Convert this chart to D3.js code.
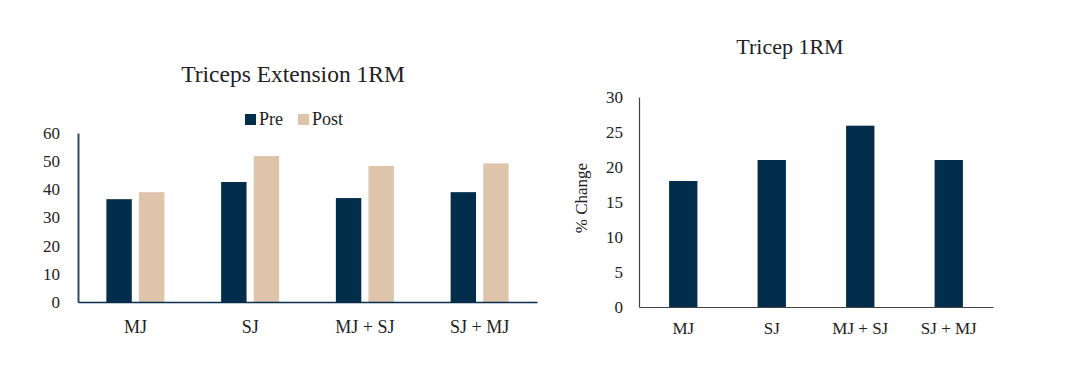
<!DOCTYPE html>
<html>
<head>
<meta charset="utf-8">
<script src="https://cdn.jsdelivr.net/npm/d3@7"></script>
<style>
  body { margin: 0; background: #fff; }
  svg text { font-family: "Liberation Serif", "DejaVu Serif", serif; fill: #222; }
</style>
</head>
<body>
<svg id="chart" width="1065" height="386"></svg>
<script>
// left chart: triceps extension 1RM, pre vs post
const groups = ["MJ", "SJ", "MJ + SJ", "SJ + MJ"];
const series = ["Pre", "Post"];
const preValues = [36.5, 42.6, 36.9, 39.0];
const postValues = [39.0, 51.8, 48.3, 49.2];
const leftTicks = [0, 10, 20, 30, 40, 50, 60];

// right chart: % change
const changeValues = [18.0, 21.0, 25.9, 21.0];
const rightTicks = [0, 5, 10, 15, 20, 25, 30];

const colors = { Pre: "#022d4b", Post: "#ddc4ab" };

const svg = d3.select("#chart");

// ---------- left chart ----------
const L = { left: 78, right: 537, top: 133, bottom: 302 };

const x0 = d3.scaleBand().domain(groups).range([L.left, L.right]).padding(0);
const x1 = d3.scaleBand().domain(series).range([x0.bandwidth() / 2 - 29, x0.bandwidth() / 2 + 29]).paddingInner(0.22);
const yL = d3.scaleLinear().domain([0, 60]).range([L.bottom, L.top]);

const left = svg.append("g");

const rows = groups.map((g, i) => ({ group: g, Pre: preValues[i], Post: postValues[i] }));

left.selectAll(".grp")
  .data(rows)
  .enter()
  .append("g")
  .attr("transform", d => `translate(${x0(d.group)},0)`)
  .selectAll("rect")
  .data(d => series.map(s => ({ key: s, value: d[s] })))
  .enter()
  .append("rect")
  .attr("x", d => x1(d.key))
  .attr("y", d => yL(d.value))
  .attr("width", x1.bandwidth())
  .attr("height", d => yL(0) - yL(d.value))
  .attr("fill", d => colors[d.key]);

const yAxisL = left.append("g")
  .attr("transform", `translate(${L.left},0)`)
  .call(d3.axisLeft(yL).tickValues(leftTicks).tickSize(0).tickPadding(18));
yAxisL.select(".domain").attr("stroke", "#2c4b69").attr("stroke-width", 2);
yAxisL.selectAll("text").style("font-size", "17px").attr("fill", "#222");

const xAxisL = left.append("g")
  .attr("transform", `translate(0,${L.bottom})`)
  .call(d3.axisBottom(x0).tickSize(0).tickPadding(18));
xAxisL.select(".domain").attr("stroke", "#0b2d4b").attr("stroke-width", 1.5);
xAxisL.selectAll("text").style("font-size", "18px").attr("fill", "#222");

left.append("text")
  .attr("x", 293)
  .attr("y", 82)
  .attr("text-anchor", "middle")
  .style("font-size", "23.5px")
  .text("Triceps Extension 1RM");

// legend
const legendX = [245, 298];
const legend = left.selectAll(".legend")
  .data(series)
  .enter()
  .append("g")
  .attr("transform", (d, i) => `translate(${legendX[i]},114)`);
legend.append("rect")
  .attr("width", 11)
  .attr("height", 11)
  .attr("fill", d => colors[d]);
legend.append("text")
  .attr("x", 14)
  .attr("y", 11)
  .style("font-size", "18px")
  .text(d => d);

// ---------- right chart ----------
const R = { left: 639, right: 993, top: 97, bottom: 307 };

const xR = d3.scaleBand().domain(groups).range([R.left, R.right]).paddingInner(0.68).paddingOuter(0.34);
const yR = d3.scaleLinear().domain([0, 30]).range([R.bottom, R.top]);

const right = svg.append("g");

right.selectAll("rect")
  .data(changeValues)
  .enter()
  .append("rect")
  .attr("x", (d, i) => xR(groups[i]))
  .attr("y", d => yR(d))
  .attr("width", xR.bandwidth())
  .attr("height", d => yR(0) - yR(d))
  .attr("fill", colors.Pre);

const yAxisR = right.append("g")
  .attr("transform", `translate(${R.left},0)`)
  .call(d3.axisLeft(yR).tickValues(rightTicks).tickSize(0).tickPadding(16));
yAxisR.select(".domain").attr("stroke", "#444").attr("stroke-width", 1.2);
yAxisR.selectAll("text").style("font-size", "17px").attr("fill", "#222");

const xAxisR = right.append("g")
  .attr("transform", `translate(0,${R.bottom})`)
  .call(d3.axisBottom(xR).tickSize(0).tickPadding(15));
xAxisR.select(".domain").attr("stroke", "#444").attr("stroke-width", 1.2);
xAxisR.selectAll("text").style("font-size", "17px").attr("fill", "#222");

right.append("text")
  .attr("x", 790)
  .attr("y", 54)
  .attr("text-anchor", "middle")
  .style("font-size", "22px")
  .text("Tricep 1RM");

right.append("text")
  .attr("transform", "translate(587,198) rotate(-90)")
  .attr("text-anchor", "middle")
  .style("font-size", "17px")
  .text("% Change");
</script>
</body>
</html>
